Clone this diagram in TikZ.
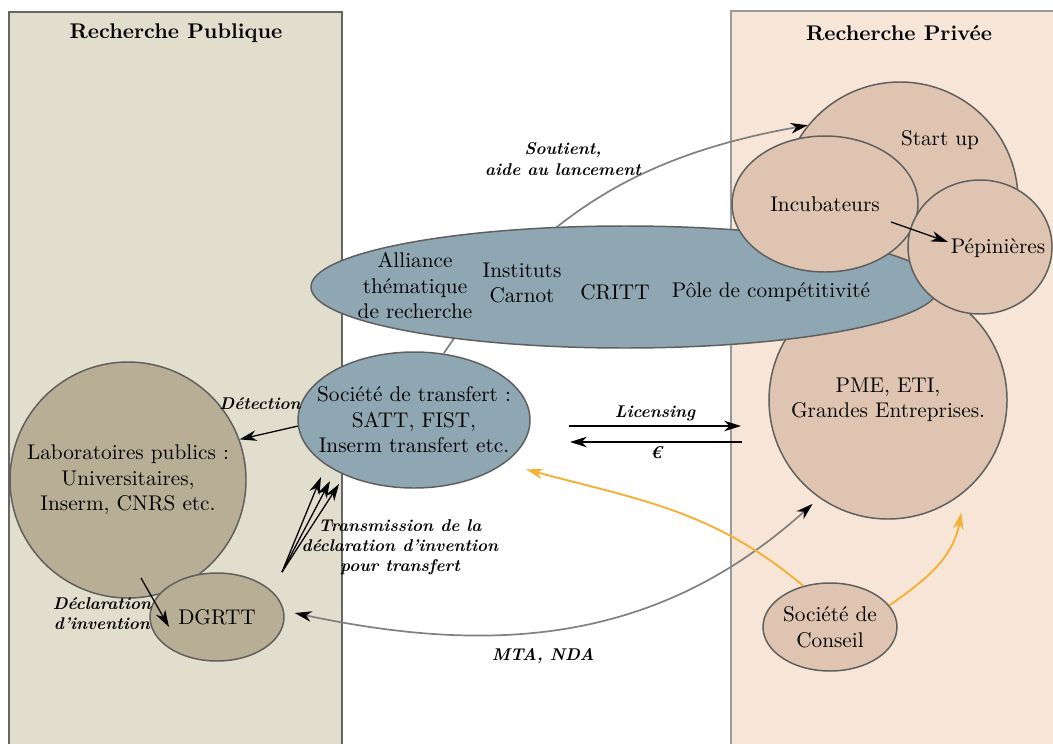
\documentclass[tikz,border=0pt]{standalone}
\usepackage{fontspec}
\usepackage{tikz}
\usetikzlibrary{positioning}
\usetikzlibrary{arrows.meta}
\usetikzlibrary{shapes.geometric}
\usetikzlibrary{calc}

\definecolor{publicFill}{HTML}{E1DECE}
\definecolor{priveeFill}{HTML}{F7E6D7}
\definecolor{labFill}{HTML}{B8AE95}
\definecolor{firmFill}{HTML}{DFC5B1}
\definecolor{transfertFill}{HTML}{8FA7B3}
\definecolor{conseilOrange}{HTML}{F5B136}
\definecolor{bubbleBorder}{HTML}{5F5F5F}

\def\pxUnit{0.470588pt}

\tikzset{% bubbles, labels and arrows
  bubble/.style    = {draw=bubbleBorder, line width=0.7pt, inner sep=0, align=center},
  round bubble/.style = {bubble, circle},
  oval bubble/.style  = {bubble, ellipse},
  txt/.style    = {align=center, inner sep=0},
  lab/.style    = {font=\footnotesize\bfseries\itshape, align=center, inner sep=0},
  flow/.style   = {line width=0.6pt, -{Stealth[length=8pt, width=5pt, inset=2.5pt]}},
  grayflow/.style = {draw=gray, line width=0.8pt},
  advice/.style = {draw=conseilOrange, line width=0.9pt, -{Stealth[length=8pt, width=5pt, inset=2.5pt]}},
}

\begin{document}
\begin{tikzpicture}[x=\pxUnit, y=\pxUnit]

        \useasboundingbox (0,0) rectangle (1053,743);

        \draw[fill=publicFill, draw=black!60, line width=1.2pt] (9,-20) rectangle (342,731);
        \draw[fill=priveeFill, draw=black!40, line width=0.8pt] (731,-20) rectangle (1070,732);

        \node[font=\bfseries] at (176,710) (pubTitle) {Recherche Publique};
        \node[font=\bfseries] at (899,710) (privTitle) {Recherche Privée};


        \node[round bubble, fill=labFill, minimum size=236*\pxUnit] at (128,263) (labo) {Laboratoires publics :\\ Universitaires,\\ Inserm, CNRS etc.};

        \node[oval bubble, fill=labFill, minimum width=134*\pxUnit, minimum height=88*\pxUnit] at (217,126) (dgrtt) {DGRTT};

        \node[oval bubble, fill=transfertFill, minimum width=232*\pxUnit, minimum height=136*\pxUnit] at (414,323) (transfert) {};
        \node[txt] at (transfert) (transfertText) {Société de transfert :\\ SATT, FIST,\\ Inserm transfert etc.};


        \node[round bubble, fill=firmFill, minimum size=236*\pxUnit] at (900,543) (startup) {};

        \node[round bubble, fill=firmFill, minimum size=238*\pxUnit] at (888,343) (pme) {PME, ETI,\\ Grandes Entreprises.};

        \draw[grayflow, -{Stealth[length=8pt, width=5pt, inset=2.5pt, color=black]}] (transfert.66) to[out=56, in=190] (startup.141);

        \node[lab] at (563,584) (soutientLab) {Soutient,\\ aide au lancement};


        \node[oval bubble, fill=transfertFill, minimum width=628*\pxUnit, minimum height=122*\pxUnit] at (625,456) (poles) {};

        \node[txt] at (415,457) (alliance) {Alliance\\ thématique\\ de recherche};
        \node[txt] at (522,460) (carnot) {Instituts\\ Carnot};
        \node[txt] at (615,451) (critt) {CRITT};
        \node[txt] at (771,451) (pole) {Pôle de compétitivité};

        \node[oval bubble, fill=firmFill, minimum width=186*\pxUnit, minimum height=136*\pxUnit] at (825,539) (incub) {Incubateurs};

        \node[oval bubble, fill=firmFill, minimum width=144*\pxUnit, minimum height=134*\pxUnit] at (980,496) (pepin) {};
        \node[txt] at (998,495) (pepinText) {Pépinières};

        \node[txt] at (940,603) (startupText) {Start up};

        \draw[flow] ($(incub)+(66,-18)$) -- ($(pepin)+(-32,5)$);


        \node[oval bubble, fill=firmFill, minimum width=134*\pxUnit, minimum height=88*\pxUnit] at (830,116) (conseil) {Société de\\ Conseil};


        \draw[flow] (transfert.183) -- (labo.20);
        \node[lab] at (260,339) (detectLab) {Détection};

        \draw[flow] ($(labo)+(13,-98)$) -- ($(dgrtt)+(-48,-10)$);
        \node[lab] at (102,129) (declLab) {Déclaration\\ d'invention};

        \coordinate (fanStart) at (282,171);
        \foreach \dx/\dy in {-93/-57, -84/-61, -75/-64}
          \draw[flow] (fanStart) -- ($(transfert)+(\dx,\dy)$);
        \node[lab] at (400,196) (transLab) {Transmission de la\\ déclaration d'invention\\ pour transfert};


        \coordinate (licW) at (569,317);
        \coordinate (licE) at (741,317);
        \coordinate (euroE) at (742,301);
        \coordinate (euroW) at (570,301);

        \draw[flow] (licW) -- node[lab, above=2pt] (licLab) {Licensing} (licE);
        \draw[flow] (euroE) -- node[lab, below=2pt] (euroLab) {€} (euroW);


        \draw[grayflow, {Stealth[length=8pt, width=5pt, inset=2.5pt, color=black]}-{Stealth[length=8pt, width=5pt, inset=2.5pt, color=black]}] ($(dgrtt.east)+(10,4)$) to[out=-12, in=222] ($(pme.234)+(-5,-7)$);
        \node[lab] at (543,87) (mtaLab) {MTA, NDA};

        \draw[advice] (conseil.123) to[out=140, in=-15] ($(transfert.-24)+(19,-8)$);
        \draw[advice] (conseil.20) to[out=35, in=260] ($(pme.-57)+(8,-12)$);

\end{tikzpicture}
\end{document}
